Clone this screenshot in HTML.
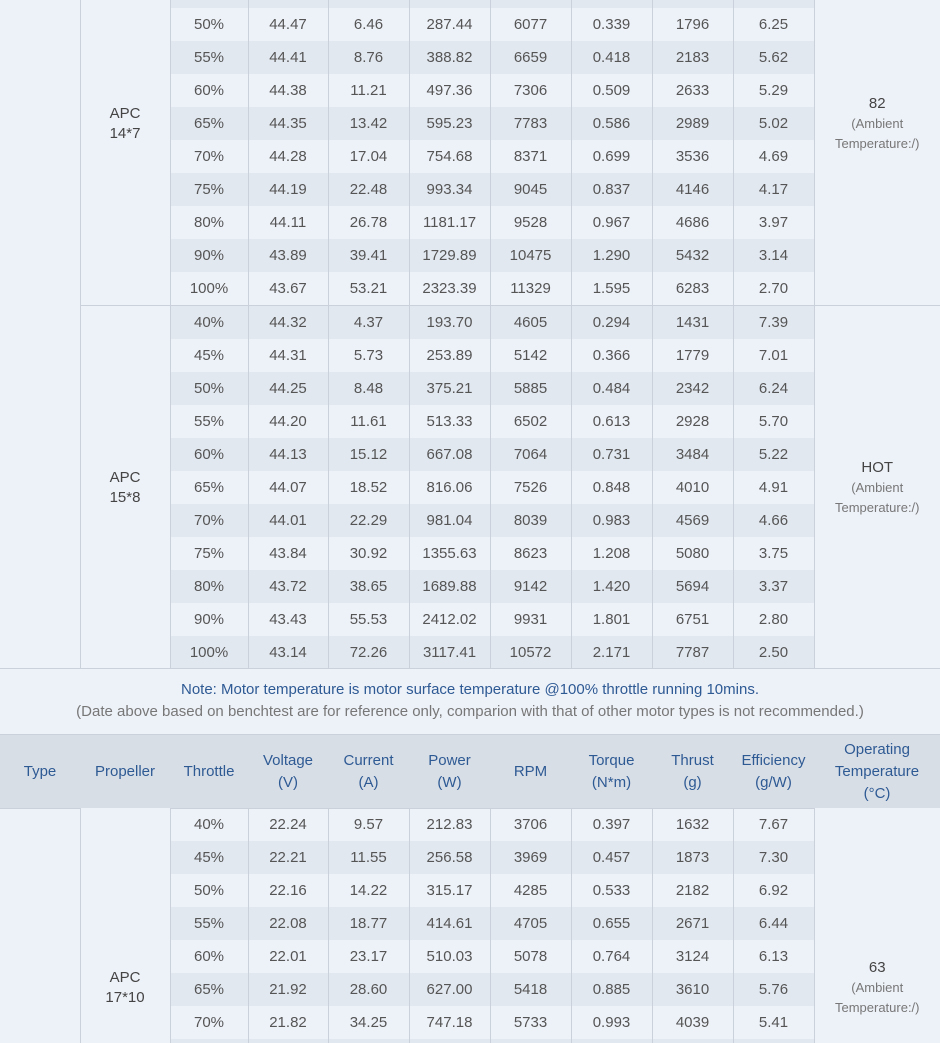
<!DOCTYPE html>
<html><head><meta charset="utf-8"><style>
html,body{margin:0;padding:0;width:940px;height:1043px;overflow:hidden;background:#edf1f8;}
body{font-family:"Liberation Sans","Noto Sans CJK SC",sans-serif;color:#555;}
#wrap{position:relative;width:940px;height:1043px;overflow:hidden;}
table{border-collapse:collapse;table-layout:fixed;width:940px;position:absolute;left:0;}
td{height:33px;padding:0;text-align:center;font-size:15px;line-height:20px;border-left:1px solid #cad1da;}
td.t{border-left:none;}
tr.d td.v{background:#e2e8f0;}
td.p,td.tp{background:#edf1f8;color:#444;}
td.tp small{font-size:13px;color:#777;display:block;line-height:20px;}
tr.last td{height:4px;}
td.top{vertical-align:top;}
.note{position:absolute;left:0;top:668px;width:940px;height:66px;border-top:1px solid #cad1da;text-align:center;}
.note .a{color:#2e5a94;font-size:15px;margin-top:11px;line-height:20px;}
.note .b2{color:#777;font-size:15px;line-height:24px;}
.hdr{position:absolute;left:0;top:734px;width:940px;height:73px;background:#d8dee6;border-top:1px solid #cad1da;border-bottom:1px solid #cad1da;}
.hdr table{position:static;}
.hdr td{border:none;height:73px;color:#2e5a94;font-size:15px;line-height:22px;}
</style></head><body><div id="wrap">
<table style="top:-58px">
<colgroup><col style="width:80px"><col style="width:90px"><col style="width:78px"><col style="width:80px"><col style="width:81px"><col style="width:81px"><col style="width:81px"><col style="width:81px"><col style="width:81px"><col style="width:81px"><col style="width:126px"></colgroup>
<tbody>
<tr><td class="t" rowspan="22"></td><td class="p" rowspan="11">APC<br>14*7</td><td class="v">40%</td><td class="v">44.50</td><td class="v">4.50</td><td class="v">200.25</td><td class="v">5000</td><td class="v">0.270</td><td class="v">1300</td><td class="v">6.50</td><td class="tp" rowspan="11">82<small>(Ambient</small><small>Temperature:/)</small></td></tr>
<tr class="d"><td class="v">45%</td><td class="v">44.49</td><td class="v">5.40</td><td class="v">240.25</td><td class="v">5500</td><td class="v">0.300</td><td class="v">1500</td><td class="v">6.40</td></tr>
<tr><td class="v">50%</td><td class="v">44.47</td><td class="v">6.46</td><td class="v">287.44</td><td class="v">6077</td><td class="v">0.339</td><td class="v">1796</td><td class="v">6.25</td></tr>
<tr class="d"><td class="v">55%</td><td class="v">44.41</td><td class="v">8.76</td><td class="v">388.82</td><td class="v">6659</td><td class="v">0.418</td><td class="v">2183</td><td class="v">5.62</td></tr>
<tr><td class="v">60%</td><td class="v">44.38</td><td class="v">11.21</td><td class="v">497.36</td><td class="v">7306</td><td class="v">0.509</td><td class="v">2633</td><td class="v">5.29</td></tr>
<tr class="d"><td class="v">65%</td><td class="v">44.35</td><td class="v">13.42</td><td class="v">595.23</td><td class="v">7783</td><td class="v">0.586</td><td class="v">2989</td><td class="v">5.02</td></tr>
<tr><td class="v">70%</td><td class="v">44.28</td><td class="v">17.04</td><td class="v">754.68</td><td class="v">8371</td><td class="v">0.699</td><td class="v">3536</td><td class="v">4.69</td></tr>
<tr class="d"><td class="v">75%</td><td class="v">44.19</td><td class="v">22.48</td><td class="v">993.34</td><td class="v">9045</td><td class="v">0.837</td><td class="v">4146</td><td class="v">4.17</td></tr>
<tr><td class="v">80%</td><td class="v">44.11</td><td class="v">26.78</td><td class="v">1181.17</td><td class="v">9528</td><td class="v">0.967</td><td class="v">4686</td><td class="v">3.97</td></tr>
<tr class="d"><td class="v">90%</td><td class="v">43.89</td><td class="v">39.41</td><td class="v">1729.89</td><td class="v">10475</td><td class="v">1.290</td><td class="v">5432</td><td class="v">3.14</td></tr>
<tr><td class="v">100%</td><td class="v">43.67</td><td class="v">53.21</td><td class="v">2323.39</td><td class="v">11329</td><td class="v">1.595</td><td class="v">6283</td><td class="v">2.70</td></tr>
<tr class="d" style="border-top:1px solid #cad1da"><td class="p" rowspan="11">APC<br>15*8</td><td class="v">40%</td><td class="v">44.32</td><td class="v">4.37</td><td class="v">193.70</td><td class="v">4605</td><td class="v">0.294</td><td class="v">1431</td><td class="v">7.39</td><td class="tp" rowspan="11">HOT<small>(Ambient</small><small>Temperature:/)</small></td></tr>
<tr><td class="v">45%</td><td class="v">44.31</td><td class="v">5.73</td><td class="v">253.89</td><td class="v">5142</td><td class="v">0.366</td><td class="v">1779</td><td class="v">7.01</td></tr>
<tr class="d"><td class="v">50%</td><td class="v">44.25</td><td class="v">8.48</td><td class="v">375.21</td><td class="v">5885</td><td class="v">0.484</td><td class="v">2342</td><td class="v">6.24</td></tr>
<tr><td class="v">55%</td><td class="v">44.20</td><td class="v">11.61</td><td class="v">513.33</td><td class="v">6502</td><td class="v">0.613</td><td class="v">2928</td><td class="v">5.70</td></tr>
<tr class="d"><td class="v">60%</td><td class="v">44.13</td><td class="v">15.12</td><td class="v">667.08</td><td class="v">7064</td><td class="v">0.731</td><td class="v">3484</td><td class="v">5.22</td></tr>
<tr><td class="v">65%</td><td class="v">44.07</td><td class="v">18.52</td><td class="v">816.06</td><td class="v">7526</td><td class="v">0.848</td><td class="v">4010</td><td class="v">4.91</td></tr>
<tr class="d"><td class="v">70%</td><td class="v">44.01</td><td class="v">22.29</td><td class="v">981.04</td><td class="v">8039</td><td class="v">0.983</td><td class="v">4569</td><td class="v">4.66</td></tr>
<tr><td class="v">75%</td><td class="v">43.84</td><td class="v">30.92</td><td class="v">1355.63</td><td class="v">8623</td><td class="v">1.208</td><td class="v">5080</td><td class="v">3.75</td></tr>
<tr class="d"><td class="v">80%</td><td class="v">43.72</td><td class="v">38.65</td><td class="v">1689.88</td><td class="v">9142</td><td class="v">1.420</td><td class="v">5694</td><td class="v">3.37</td></tr>
<tr><td class="v">90%</td><td class="v">43.43</td><td class="v">55.53</td><td class="v">2412.02</td><td class="v">9931</td><td class="v">1.801</td><td class="v">6751</td><td class="v">2.80</td></tr>
<tr class="d"><td class="v">100%</td><td class="v">43.14</td><td class="v">72.26</td><td class="v">3117.41</td><td class="v">10572</td><td class="v">2.171</td><td class="v">7787</td><td class="v">2.50</td></tr>
</tbody></table>

<div class="note"><div class="a">Note: Motor temperature is motor surface temperature @100% throttle running 10mins.</div><div class="b2">(Date above based on benchtest are for reference only, comparion with that of other motor types is not recommended.)</div></div>

<div class="hdr"><table>
<colgroup><col style="width:80px"><col style="width:90px"><col style="width:78px"><col style="width:80px"><col style="width:81px"><col style="width:81px"><col style="width:81px"><col style="width:81px"><col style="width:81px"><col style="width:81px"><col style="width:126px"></colgroup>
<tr><td>Type</td><td>Propeller</td><td>Throttle</td><td>Voltage<br>(V)</td><td>Current<br>(A)</td><td>Power<br>(W)</td><td>RPM</td><td>Torque<br>(N*m)</td><td>Thrust<br>(g)</td><td>Efficiency<br>(g/W)</td><td>Operating<br>Temperature<br>(°C)</td></tr>
</table></div>

<table style="top:808px">
<colgroup><col style="width:80px"><col style="width:90px"><col style="width:78px"><col style="width:80px"><col style="width:81px"><col style="width:81px"><col style="width:81px"><col style="width:81px"><col style="width:81px"><col style="width:81px"><col style="width:126px"></colgroup>
<tr><td class="t" rowspan="8"></td><td class="p top" rowspan="8"><div style="padding-top:160px">APC<br>17*10</div></td><td class="v">40%</td><td class="v">22.24</td><td class="v">9.57</td><td class="v">212.83</td><td class="v">3706</td><td class="v">0.397</td><td class="v">1632</td><td class="v">7.67</td><td class="tp top" rowspan="8"><div style="padding-top:150px">63<small>(Ambient</small><small>Temperature:/)</small></div></td></tr>
<tr class="d"><td class="v">45%</td><td class="v">22.21</td><td class="v">11.55</td><td class="v">256.58</td><td class="v">3969</td><td class="v">0.457</td><td class="v">1873</td><td class="v">7.30</td></tr>
<tr><td class="v">50%</td><td class="v">22.16</td><td class="v">14.22</td><td class="v">315.17</td><td class="v">4285</td><td class="v">0.533</td><td class="v">2182</td><td class="v">6.92</td></tr>
<tr class="d"><td class="v">55%</td><td class="v">22.08</td><td class="v">18.77</td><td class="v">414.61</td><td class="v">4705</td><td class="v">0.655</td><td class="v">2671</td><td class="v">6.44</td></tr>
<tr><td class="v">60%</td><td class="v">22.01</td><td class="v">23.17</td><td class="v">510.03</td><td class="v">5078</td><td class="v">0.764</td><td class="v">3124</td><td class="v">6.13</td></tr>
<tr class="d"><td class="v">65%</td><td class="v">21.92</td><td class="v">28.60</td><td class="v">627.00</td><td class="v">5418</td><td class="v">0.885</td><td class="v">3610</td><td class="v">5.76</td></tr>
<tr><td class="v">70%</td><td class="v">21.82</td><td class="v">34.25</td><td class="v">747.18</td><td class="v">5733</td><td class="v">0.993</td><td class="v">4039</td><td class="v">5.41</td></tr>
<tr class="d last"><td class="v"></td><td class="v"></td><td class="v"></td><td class="v"></td><td class="v"></td><td class="v"></td><td class="v"></td><td class="v"></td></tr>
</table>
</div></body></html>
